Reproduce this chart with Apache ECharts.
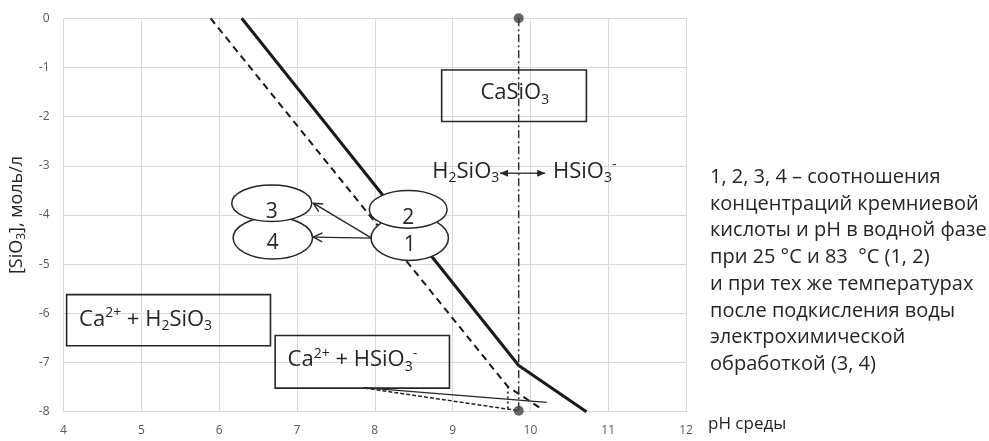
<!DOCTYPE html>
<html><head><meta charset="utf-8">
<script src="https://cdn.jsdelivr.net/npm/echarts@6/dist/echarts.min.js"></script>
<style>html,body{margin:0;padding:0;background:#fff}#c{width:989px;height:441px}</style>
</head><body><div id="c"></div>
<script>
// ---- axes ----
const xMin = 4, xMax = 12, yMin = -8, yMax = 0;

// ---- curves (pH, log[SiO3]) ----
const solidX = [6.29, 9.85, 10.72];
const solidY = [0, -7.06, -8];
const dashX = [5.89, 9.71, 10.15];
const dashY = [0, -7.49, -7.95];
const thinSolidX = [7.85, 10.21];
const thinSolidY = [-7.51, -7.81];
const thinDashX = [7.87, 9.85];
const thinDashY = [-7.52, -7.98];
const dropX = [9.71, 9.71];
const dropY = [-7.49, -7.96];
const boundaryX = [9.85, 9.85];
const boundaryY = [0, -7.98];
const dotX = [9.85, 9.85];
const dotY = [0, -7.98];

// ---- boxed region labels ----
const boxText = ['CaSiO{s|3}', 'Ca{p|2+} + H{s|2}SiO{s|3}', 'Ca{p|2+} + HSiO{s|3}{p|-}'];
const boxX1 = [8.86, 4.04, 6.72];
const boxY1 = [-1.05, -5.62, -6.45];
const boxX2 = [10.72, 6.66, 8.96];
const boxY2 = [-2.10, -6.66, -7.52];
const boxTextX = [9.80, 4.20, 6.88];
const boxTextY = [-1.52, -6.13, -6.95];
const boxTextAlign = ['center', 'left', 'left'];

// ---- ellipses 1..4 (layer 0 drawn first, layer 1 on top) ----
const ellLabel = ['4', '3', '1', '2'];
const ellLayer = [0, 1, 0, 1];
const ellX = [6.69, 6.676, 8.45, 8.43];
const ellY = [-4.47, -3.76, -4.47, -3.886];
const ellRX = [0.51, 0.514, 0.497, 0.50];
const ellRY = [0.427, 0.372, 0.455, 0.382];
const ellLabelY = [-4.57, -3.93, -4.61, -4.07];

// ---- open arrows (1 -> 3, 1 -> 4) ----
const openArrX1 = [7.96, 7.96];
const openArrY1 = [-4.47, -4.47];
const openArrX2 = [7.21, 7.21];
const openArrY2 = [-3.76, -4.45];

// ---- equilibrium double arrow ----
const dblArrX1 = [9.90, 9.90];
const dblArrY1 = [-3.15, -3.15];
const dblArrX2 = [9.61, 10.19];
const dblArrY2 = [-3.15, -3.15];
const eqText = ['H{s|2}SiO{s|3}', 'HSiO{s|3}{p|-}'];
const eqTextX = [9.60, 10.29];
const eqTextY = [-3.12, -3.12];
const eqAlign = ['right', 'left'];

const noteLines = [
  '1, 2, 3, 4 – соотношения',
  'концентраций кремниевой',
  'кислоты и pH в водной фазе',
  'при 25 °C и 83  °C (1, 2)',
  'и при тех же температурах',
  'после подкисления воды',
  'электрохимической',
  'обработкой (3, 4)'
];

const INK = '#262626';
const FONT = 'Open Sans';
const richSS = {
  s: {fontSize: 14, fontFamily: FONT, fill: INK, color: INK, padding: [13, 0, 0, 0]},
  p: {fontSize: 14, fontFamily: FONT, fill: INK, color: INK, padding: [0, 0, 13, 0]}
};

const zip = (a, b) => a.map((v, i) => [v, b[i]]);

function arrowHead(p1, p2, L, w) {
  const dx = p2[0] - p1[0], dy = p2[1] - p1[1];
  const len = Math.sqrt(dx * dx + dy * dy) || 1;
  const ux = dx / len, uy = dy / len, nx = -uy, ny = ux;
  const bx = p2[0] - ux * L, by = p2[1] - uy * L;
  return [[bx + nx * w, by + ny * w], [p2[0], p2[1]], [bx - nx * w, by - ny * w]];
}

function ellipseSeries(layer, z) {
  return {type: 'custom', z: z, clip: false,
    data: ellX.map((x, i) => [x, ellY[i]]),
    encode: {x: 0, y: 1},
    renderItem: function (params, api) {
      const i = params.dataIndex;
      if (ellLayer[i] !== layer) return null;
      const c = api.coord([ellX[i], ellY[i]]);
      const sz = api.size([ellRX[i], ellRY[i]]);
      const t = api.coord([ellX[i], ellLabelY[i]]);
      return {type: 'group', children: [
        {type: 'ellipse', shape: {cx: c[0], cy: c[1], rx: sz[0], ry: sz[1]},
          style: {fill: '#fff', stroke: INK, lineWidth: 1.5}},
        {type: 'text', x: t[0], y: t[1],
          style: {text: ellLabel[i], fontFamily: FONT, fontSize: 21, fill: INK,
            align: 'center', verticalAlign: 'middle'}}
      ]};
    }};
}

const chart = echarts.init(document.getElementById('c'), null, {renderer: 'canvas'});

const option = {
  animation: false,
  backgroundColor: '#fff',
  grid: {left: 63.5, right: 303, top: 18.3, bottom: 29.3, containLabel: false, outerBoundsMode: 'none'},
  xAxis: {
    type: 'value', min: xMin, max: xMax, interval: 1,
    name: 'pH среды', nameLocation: 'end', nameGap: 22,
    nameTextStyle: {fontFamily: FONT, fontSize: 17, color: INK, align: 'left', verticalAlign: 'top', padding: [4, 0, 0, 0]},
    axisLine: {show: false, onZero: false}, axisTick: {show: false},
    axisLabel: {fontFamily: FONT, fontSize: 12, color: '#595959', margin: 13},
    splitLine: {show: true, lineStyle: {color: '#d9d9d9', width: 1}}
  },
  yAxis: {
    type: 'value', min: yMin, max: yMax, interval: 1,
    name: '[SiO{s|3}], моль/л', nameLocation: 'middle', nameRotate: 90, nameGap: 35,
    nameTextStyle: {fontFamily: FONT, fontSize: 18, color: INK,
      rich: {s: {fontSize: 12, fontFamily: FONT, color: INK, padding: [10, 0, 0, 0]}}},
    axisLine: {show: false, onZero: false}, axisTick: {show: false},
    axisLabel: {fontFamily: FONT, fontSize: 12, color: '#595959', margin: 14},
    splitLine: {show: true, lineStyle: {color: '#d9d9d9', width: 1}}
  },
  series: [
    {type: 'line', data: zip(solidX, solidY), showSymbol: false, clip: false, z: 3,
      lineStyle: {color: '#1a1a1a', width: 3}},
    {type: 'line', data: zip(dashX, dashY), showSymbol: false, clip: false, z: 3,
      lineStyle: {color: '#1a1a1a', width: 2, type: [7, 5]}},
    {type: 'line', data: zip(thinSolidX, thinSolidY), showSymbol: false, clip: false, z: 3,
      lineStyle: {color: '#262626', width: 1.3}},
    {type: 'line', data: zip(thinDashX, thinDashY), showSymbol: false, clip: false, z: 3,
      lineStyle: {color: '#262626', width: 1.5, type: [4, 2]}},
    {type: 'line', data: zip(dropX, dropY), showSymbol: false, clip: false, z: 3,
      lineStyle: {color: '#262626', width: 1.8, type: [2, 3]}},
    {type: 'line', data: zip(boundaryX, boundaryY), showSymbol: false, clip: false, z: 3,
      lineStyle: {color: '#333', width: 1.5, type: [8, 3, 2, 3]}},
    {type: 'scatter', data: zip(dotX, dotY), symbolSize: 10, clip: false, z: 8,
      itemStyle: {color: '#404040'}},
    // boxes
    {type: 'custom', z: 4, clip: false,
      data: boxX1.map((x, i) => [x, boxY1[i], boxX2[i], boxY2[i]]),
      encode: {x: [0, 2], y: [1, 3]},
      renderItem: function (params, api) {
        const i = params.dataIndex;
        const p1 = api.coord([boxX1[i], boxY1[i]]);
        const p2 = api.coord([boxX2[i], boxY2[i]]);
        const t = api.coord([boxTextX[i], boxTextY[i]]);
        return {type: 'group', children: [
          {type: 'rect', shape: {x: p1[0], y: p1[1], width: p2[0] - p1[0], height: p2[1] - p1[1]},
            style: {fill: 'none', stroke: INK, lineWidth: 1.6}},
          {type: 'text', x: t[0], y: t[1],
            style: {text: boxText[i], rich: richSS, fontFamily: FONT, fontSize: 22, fill: INK,
              align: boxTextAlign[i], verticalAlign: 'middle'}}
        ]};
      }},
    ellipseSeries(0, 5),
    ellipseSeries(1, 6),
    // open arrows
    {type: 'custom', z: 7, clip: false,
      data: openArrX1.map((x, i) => [x, openArrY1[i], openArrX2[i], openArrY2[i]]),
      encode: {x: [0, 2], y: [1, 3]},
      renderItem: function (params, api) {
        const i = params.dataIndex;
        const a = api.coord([openArrX1[i], openArrY1[i]]);
        const b = api.coord([openArrX2[i], openArrY2[i]]);
        return {type: 'group', children: [
          {type: 'line', shape: {x1: a[0], y1: a[1], x2: b[0], y2: b[1]}, style: {stroke: INK, lineWidth: 1.4}},
          {type: 'polyline', shape: {points: arrowHead(a, b, 9, 4.5)}, style: {stroke: INK, fill: 'none', lineWidth: 1.4}}
        ]};
      }},
    // double (equilibrium) arrow + species text
    {type: 'custom', z: 7, clip: false,
      data: dblArrX1.map((x, i) => [x, dblArrY1[i], dblArrX2[i], dblArrY2[i]]),
      encode: {x: [0, 2], y: [1, 3]},
      renderItem: function (params, api) {
        const i = params.dataIndex;
        const a = api.coord([dblArrX1[i], dblArrY1[i]]);
        const b = api.coord([dblArrX2[i], dblArrY2[i]]);
        const t = api.coord([eqTextX[i], eqTextY[i]]);
        return {type: 'group', children: [
          {type: 'line', shape: {x1: a[0], y1: a[1], x2: b[0], y2: b[1]}, style: {stroke: INK, lineWidth: 1.3}},
          {type: 'polygon', shape: {points: arrowHead(a, b, 8, 3.5)}, style: {fill: INK}},
          {type: 'text', x: t[0], y: t[1],
            style: {text: eqText[i], rich: richSS, fontFamily: FONT, fontSize: 22, fill: INK,
              align: eqAlign[i], verticalAlign: 'middle'}}
        ]};
      }}
  ],
  graphic: [
    {type: 'text', left: 710, top: 164,
      style: {text: noteLines.join('\n'), fontFamily: FONT, fontSize: 20, lineHeight: 26.7, fill: INK}}
  ]
};
chart.setOption(option);
</script></body></html>
